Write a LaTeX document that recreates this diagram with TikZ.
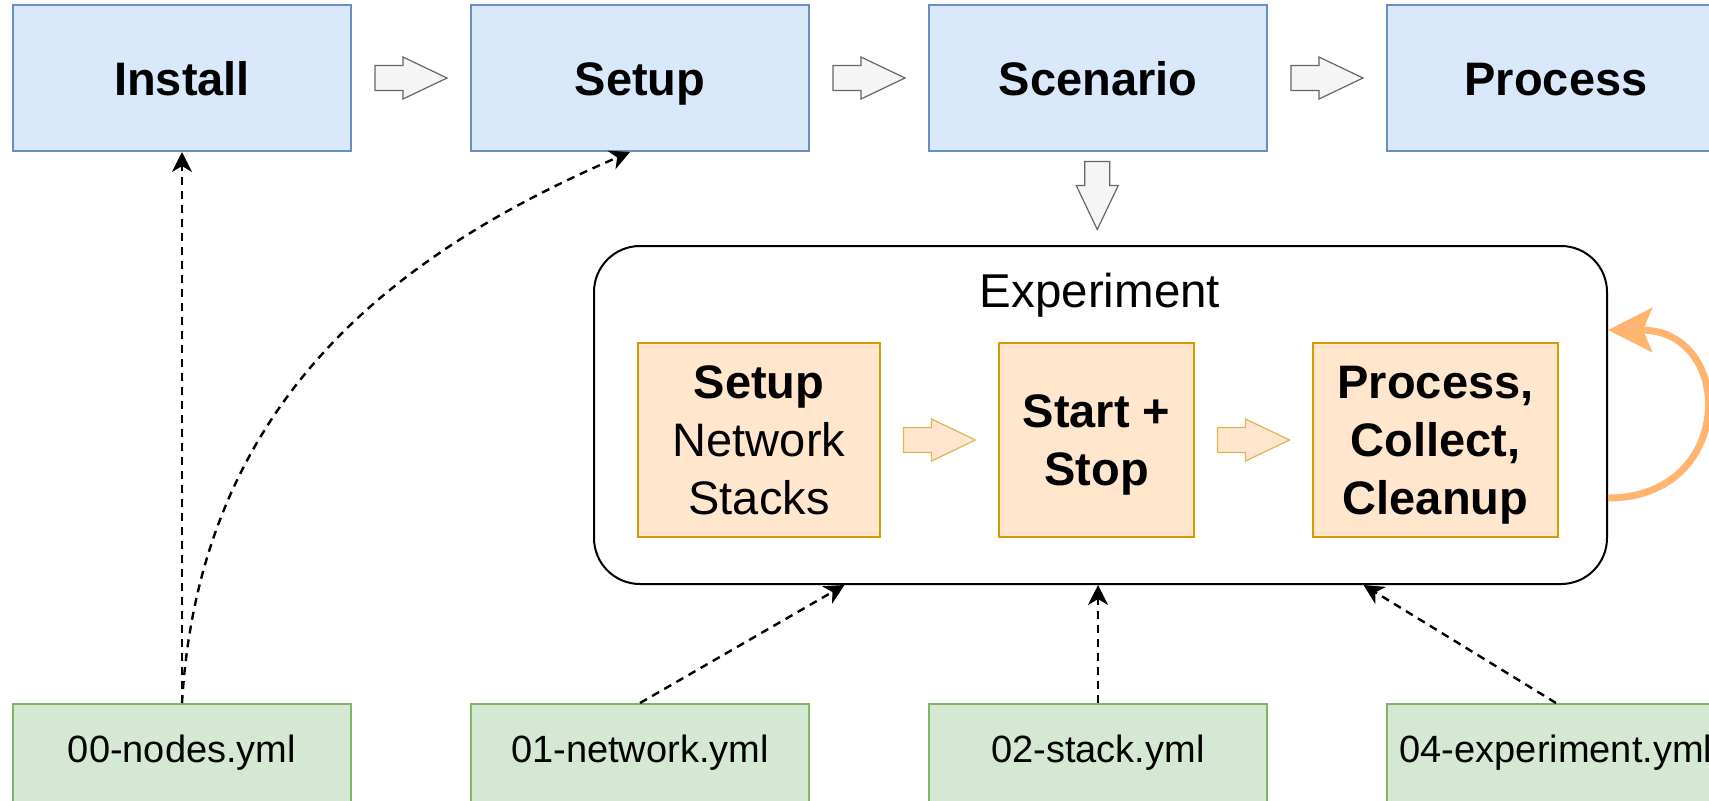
\documentclass[tikz,border=0pt]{standalone}
\usepackage{fontspec}
\setmainfont{Liberation Sans}
\usetikzlibrary{arrows.meta,calc}
\definecolor{bluefill}{HTML}{DAE8FC}
\definecolor{bluestroke}{HTML}{6C8EBF}
\definecolor{orfill}{HTML}{FFE6CC}
\definecolor{orstroke}{HTML}{D79B00}
\definecolor{orarrstroke}{HTML}{D6B656}
\definecolor{greenfill}{HTML}{D5E8D4}
\definecolor{greenstroke}{HTML}{82B366}
\definecolor{grayfill}{HTML}{F5F5F5}
\definecolor{graystroke}{HTML}{666666}
\definecolor{loopcol}{HTML}{FFB570}
\tikzset{
  topbox/.style={draw=bluestroke, fill=bluefill, line width=1pt, minimum width=169pt, minimum height=73pt, inner sep=0pt, text height=17pt, text depth=0pt, font=\fontsize{23.5}{29}\selectfont\bfseries},
  filebox/.style={draw=greenstroke, fill=greenfill, line width=1pt, minimum width=169pt, minimum height=49pt, inner sep=0pt, font=\fontsize{19}{23}\selectfont},
  stepbox/.style={draw=orstroke, fill=orfill, line width=1pt, minimum height=97pt, inner sep=0pt, align=center, text depth=0pt, font=\fontsize{23.5}{29}\selectfont},
  expbox/.style={draw=black, line width=1pt, rounded corners=23pt, minimum width=506.5pt, minimum height=169pt, inner sep=0pt},
  dep/.style={dash pattern=on 4pt off 3pt, line width=1.2pt, -{Stealth[length=10pt,width=10pt,inset=3pt]}},
  loopline/.style={draw=loopcol, line width=3.5pt, -{Stealth[length=22pt,width=22pt,inset=4.5pt]}},
  grayarr/.style={draw=graystroke, fill=grayfill, line width=0.6pt},
  orarr/.style={draw=orarrstroke, fill=orfill, line width=0.6pt},
  pics/blk/.style={code={
    \path[pic actions] ({-#1/2},-12.5) -- ({#1/2-44},-12.5) -- ({#1/2-44},-21) -- ({#1/2},0)
      -- ({#1/2-44},21) -- ({#1/2-44},12.5) -- ({-#1/2},12.5) -- cycle;}}
}
\begin{document}
\begin{tikzpicture}[x=0.5pt,y=-0.5pt]
\useasboundingbox (0,0) rectangle (1709,800);
\clip (0,0) rectangle (1709,800);
% top row
\node[topbox] (install) at (182,78) {Install};
\node[topbox] (setup) at (640,78) {Setup};
\node[topbox] (scenario) at (1098,78) {Scenario};
\node[topbox] (process) at (1556,78) {Process};
\pic[grayarr] at ($(install.east)!0.5!(setup.west)$) {blk=72};
\pic[grayarr] at ($(setup.east)!0.5!(scenario.west)$) {blk=72};
\pic[grayarr] at ($(scenario.east)!0.5!(process.west)$) {blk=72};
% experiment
\node[expbox] (exp) at (1100.5,415) {};
\node[font=\fontsize{23.75}{29}\selectfont, anchor=base] (explabel) at (1100,307) {Experiment};
\pic[grayarr, rotate=-90] at ($(scenario.south)!0.5!(exp.north)+(-2,-3)$) {blk=68};
\node[stepbox, minimum width=121pt] (s1) at (759,440) {\textbf{Setup}\\Network\\Stacks};
\node[stepbox, minimum width=97.5pt, font=\fontsize{23.5}{29}\selectfont\bfseries] (s2) at (1096.5,440) {Start +\\Stop};
\node[stepbox, minimum width=122.5pt, font=\fontsize{23.5}{29}\selectfont\bfseries] (s3) at (1435.5,440) {Process,\\Collect,\\Cleanup};
\pic[orarr] at ($(s1.east)!0.5!(s2.west)$) {blk=72};
\pic[orarr] at ($(s2.east)!0.5!(s3.west)$) {blk=72};
\draw[loopline] ($(exp.east)+(0,83)$) .. controls +(128,0) and +(128,0) .. ($(exp.east)+(0,-85)$);
% files
\node[filebox] (f0) at (182,753) {00-nodes.yml};
\node[filebox] (f1) at (640,753) {01-network.yml};
\node[filebox] (f2) at (1098,753) {02-stack.yml};
\node[filebox] (f4) at (1556,753) {04-experiment.yml};
% dependencies
\draw[dep] (f0.north) -- (install.south);
\draw[dep] (f0.north) .. controls +(18,-305) and +(-230,99) .. ($(setup.south)+(-10,0)$);
\draw[dep] (f1.north) -- ($(exp.south)+(-256,0)$);
\draw[dep] (f2.north) -- (f2.north |- exp.south);
\draw[dep] (f4.north) -- ($(exp.south)+(263,0)$);
\end{tikzpicture}
\end{document}
